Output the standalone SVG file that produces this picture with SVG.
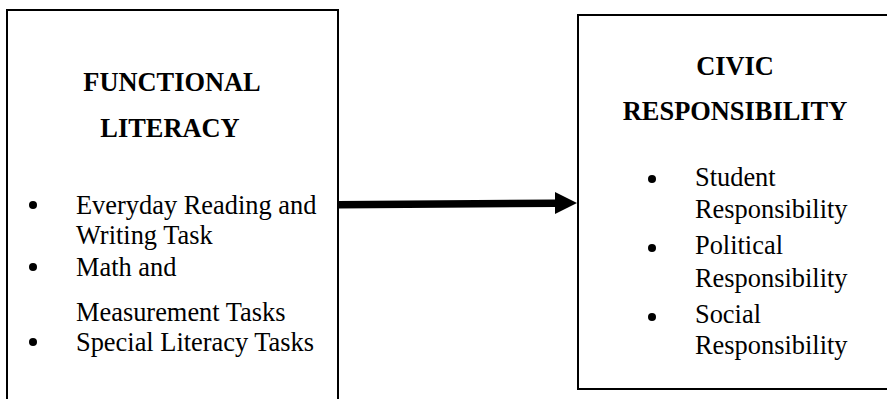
<svg xmlns="http://www.w3.org/2000/svg" width="887" height="399" viewBox="0 0 887 399">
<style>
.box{fill:#fff;stroke:#000;stroke-width:2}
.h{font-family:"Liberation Serif","Times New Roman",serif;font-size:26.4px;font-weight:bold;fill:#000;text-anchor:middle}
.t{font-family:"Liberation Serif","Times New Roman",serif;font-size:26.4px;fill:#000}
.b{fill:#000}
</style>
<rect width="887" height="399" fill="#fff"/>
<g id="functional-literacy">
<rect class="box" x="7" y="10" width="331" height="400"/>
<text class="h" x="172" y="91">FUNCTIONAL</text>
<text class="h" x="170" y="137">LITERACY</text>
<circle class="b" cx="33" cy="205" r="4"/>
<text class="t" x="76" y="214">Everyday Reading and</text>
<text class="t" x="76" y="244">Writing Task</text>
<circle class="b" cx="33" cy="267" r="4"/>
<text class="t" x="76" y="276">Math and</text>
<text class="t" x="76" y="321">Measurement Tasks</text>
<circle class="b" cx="33" cy="342" r="4"/>
<text class="t" x="76" y="351">Special Literacy Tasks</text>
</g>
<g id="civic-responsibility">
<rect class="box" x="578" y="15" width="320" height="374"/>
<text class="h" x="735" y="75">CIVIC</text>
<text class="h" x="735" y="120">RESPONSIBILITY</text>
<circle class="b" cx="652" cy="179" r="4"/>
<text class="t" x="695" y="186">Student</text>
<text class="t" x="695" y="218">Responsibility</text>
<circle class="b" cx="652" cy="248" r="4"/>
<text class="t" x="695" y="254">Political</text>
<text class="t" x="695" y="287">Responsibility</text>
<circle class="b" cx="652" cy="317" r="4"/>
<text class="t" x="695" y="323">Social</text>
<text class="t" x="695" y="354">Responsibility</text>
</g>
<g id="connectors">
<polygon points="338,201 555,199.5 555,192 577,203 555,214 555,207 338,208.5" fill="#000"/>
</g>
</svg>
